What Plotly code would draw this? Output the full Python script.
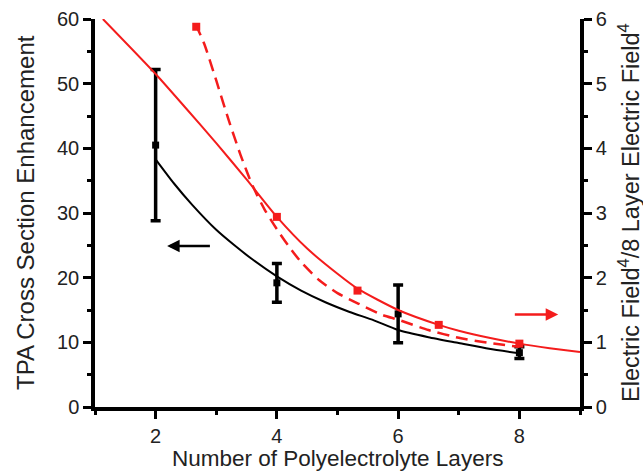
import plotly.graph_objects as go

# ---- data ----
layers = [2, 4, 6, 8]
tpa_enh = [40.5, 19.2, 14.4, 8.4]
tpa_err = [11.7, 3.0, 4.45, 0.9]

tpa_fit_x = [2.0, 2.3, 2.6, 3.0, 3.3, 3.6, 4.0, 4.4, 4.8, 5.2, 5.6, 6.0, 6.5, 7.0, 7.5, 8.0]
tpa_fit_y = [38.3, 34.6, 31.3, 27.4, 25.0, 22.8, 20.2, 18.0, 16.2, 14.7, 13.4, 11.9, 10.8, 9.9, 9.0, 8.3]

field_x = [2.67, 4.0, 5.33, 6.67, 8.0]
field_y = [5.88, 2.94, 1.80, 1.27, 0.98]

field_fit_x = [1.13, 2.0, 2.5, 3.0, 3.5, 4.0, 4.5, 5.0, 5.33, 6.0, 6.67, 7.0, 7.5, 8.0, 8.5, 9.0]
field_fit_y = [6.0, 5.15, 4.62, 4.08, 3.52, 2.94, 2.45, 2.06, 1.83, 1.50, 1.27, 1.18, 1.07, 0.98, 0.91, 0.85]

field_dash_x = [2.66, 2.8, 3.0, 3.2, 3.4, 3.6, 3.8, 4.0, 4.2, 4.4, 4.7, 5.0, 5.34, 5.75, 6.0, 6.5, 7.0, 7.5, 8.0]
field_dash_y = [5.92, 5.62, 5.05, 4.45, 3.9, 3.42, 3.05, 2.75, 2.48, 2.24, 1.96, 1.76, 1.60, 1.42, 1.35, 1.19, 1.07, 0.99, 0.93]

x_ticks = [2, 4, 6, 8]
left_ticks = [0, 10, 20, 30, 40, 50, 60]
right_ticks = [0, 1, 2, 3, 4, 5, 6]

x_title = "Number of Polyelectrolyte Layers"
left_title = "TPA Cross Section Enhancement"
right_title = "Electric Field<sup>4</sup>/8 Layer Electric Field<sup>4</sup>"

RED = "#f41c1c"
FONT = "Liberation Sans, Arial, sans-serif"
TXT = "#222"

fig = go.Figure()

# red (right axis)
fig.add_trace(go.Scatter(x=field_fit_x, y=field_fit_y, mode="lines", yaxis="y2",
                         line=dict(color=RED, width=2, shape="spline", smoothing=0.6),
                         showlegend=False))
fig.add_trace(go.Scatter(x=field_dash_x, y=field_dash_y, mode="lines", yaxis="y2",
                         line=dict(color=RED, width=2.5, dash="12px,7px", shape="spline", smoothing=0.6),
                         showlegend=False))
fig.add_trace(go.Scatter(x=field_x, y=field_y, mode="markers", yaxis="y2",
                         marker=dict(symbol="square", size=8, color=RED), showlegend=False))

# black (left axis)
fig.add_trace(go.Scatter(x=tpa_fit_x, y=tpa_fit_y, mode="lines", yaxis="y",
                         line=dict(color="black", width=2, shape="spline", smoothing=0.6),
                         showlegend=False))
fig.add_trace(go.Scatter(x=layers, y=tpa_enh, mode="markers", yaxis="y",
                         marker=dict(symbol="square", size=7, color="black"),
                         error_y=dict(type="data", array=tpa_err, color="black",
                                      thickness=3.5, width=5),
                         showlegend=False))

# arrows
fig.add_annotation(x=2.19, y=24.9, ax=2.92, ay=24.9, xref="x", yref="y",
                   axref="x", ayref="y", text="", showarrow=True,
                   arrowhead=2, arrowsize=1, arrowwidth=2.5, arrowcolor="black")
fig.add_annotation(x=8.64, y=1.43, ax=7.9, ay=1.43, xref="x", yref="y2",
                   axref="x", ayref="y2", text="", showarrow=True,
                   arrowhead=2, arrowsize=1, arrowwidth=2.5, arrowcolor=RED)

# axis titles
fig.add_annotation(text=x_title, xref="paper", yref="paper", x=0.5, y=0,
                   xanchor="center", yanchor="middle", yshift=-51, showarrow=False,
                   borderpad=0, font=dict(family=FONT, size=22.5, color=TXT))
fig.add_annotation(text=left_title, xref="paper", yref="paper", x=0, y=0.5,
                   xanchor="center", yanchor="middle", xshift=-70, textangle=-90,
                   showarrow=False, font=dict(family=FONT, size=24, color=TXT))
fig.add_annotation(text=right_title, xref="paper", yref="paper", x=1, y=0.5,
                   xanchor="center", yanchor="middle", xshift=49, textangle=-90,
                   showarrow=False, font=dict(family=FONT, size=23.5, color=TXT))

axis_common = dict(showline=True, linecolor="black", linewidth=3.5,
                   ticks="outside", ticklen=8, tickwidth=3, tickcolor="black",
                   showgrid=False, zeroline=False, automargin=False,
                   tickfont=dict(family=FONT, size=20, color=TXT))

fig.update_layout(
    width=643, height=473,
    margin=dict(l=95, r=63, t=19, b=66),
    paper_bgcolor="white", plot_bgcolor="white",
    font=dict(family=FONT, color=TXT),
    xaxis=dict(range=[1, 9], tickvals=x_ticks,
               minor=dict(dtick=1, tick0=1, ticks="outside", ticklen=4, tickwidth=3, tickcolor="black"),
               **axis_common),
    yaxis=dict(range=[0, 60], tickvals=left_ticks,
               minor=dict(dtick=5, tick0=0, ticks="outside", ticklen=4, tickwidth=3, tickcolor="black"),
               **axis_common),
    yaxis2=dict(range=[0, 6], tickvals=right_ticks, overlaying="y", side="right", anchor="x",
                minor=dict(dtick=0.5, tick0=0, ticks="outside", ticklen=4, tickwidth=3, tickcolor="black"),
                **axis_common),
)

fig.write_html("out.html", config={"displayModeBar": False},
               post_script="document.body.style.margin='0px';document.body.style.overflow='hidden';")
